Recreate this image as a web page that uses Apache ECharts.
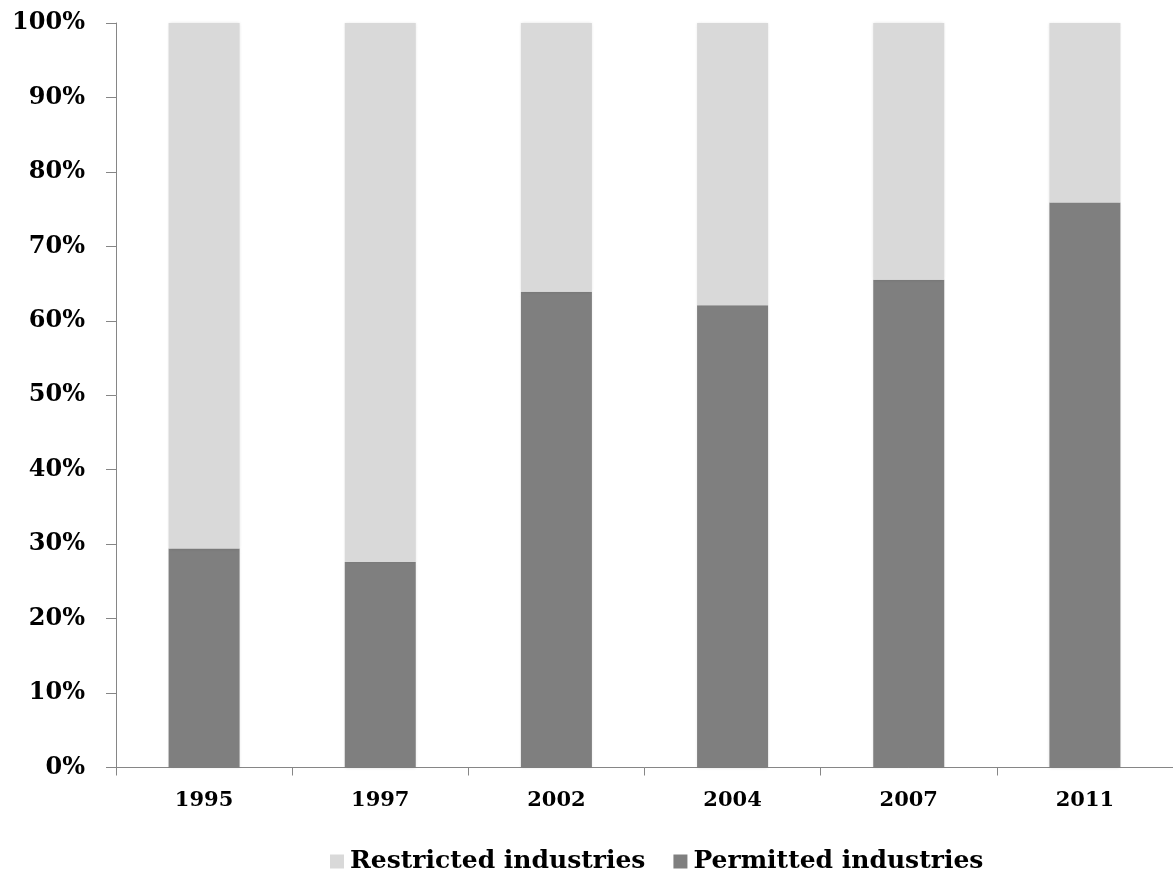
<!DOCTYPE html>
<html>
<head>
<meta charset="utf-8">
<script src="https://cdn.jsdelivr.net/npm/echarts@6/dist/echarts.min.js"></script>
<style>
  html, body { margin: 0; padding: 0; background: #ffffff; }
  #chart { width: 1173px; height: 875px; }
</style>
</head>
<body>
<div id="chart"></div>
<script>
// Share of industries by category, per catalogue year (percent)
const years = ['1995', '1997', '2002', '2004', '2007', '2011'];
const permitted = [29.4, 27.6, 63.9, 62.1, 65.5, 75.9];
const restricted = [70.6, 72.4, 36.1, 37.9, 34.5, 24.1];
const yTicks = [0, 10, 20, 30, 40, 50, 60, 70, 80, 90, 100];

const FONT = 'DejaVu Serif';
const axisGrey = '#868686';

const chart = echarts.init(document.getElementById('chart'), null, { renderer: 'canvas' });
chart.setOption({
  animation: false,
  backgroundColor: '#ffffff',
  grid: { left: 116, right: 0, top: 23, bottom: 107.5, containLabel: false },
  legend: {
    top: 844,
    left: 325,
    itemWidth: 14,
    itemHeight: 14,
    itemGap: 28,
    icon: 'rect',
    data: ['Restricted industries', 'Permitted industries'],
    textStyle: { fontFamily: FONT, fontWeight: 'bold', fontSize: 25, color: '#000000', padding: [0, 0, 0, 1] }
  },
  xAxis: {
    type: 'category',
    data: years,
    boundaryGap: true,
    axisLine: { lineStyle: { color: axisGrey, width: 1 } },
    axisTick: { show: true, alignWithLabel: false, length: 8, lineStyle: { color: axisGrey } },
    axisLabel: { fontFamily: FONT, fontWeight: 'bold', fontSize: 21, color: '#000000', margin: 23 },
    splitLine: { show: false }
  },
  yAxis: {
    type: 'value',
    min: yTicks[0],
    max: yTicks[yTicks.length - 1],
    interval: 10,
    axisLine: { show: true, lineStyle: { color: axisGrey, width: 1 } },
    axisTick: { show: true, length: 10, lineStyle: { color: axisGrey } },
    axisLabel: { fontFamily: FONT, fontWeight: 'bold', fontSize: 24, color: '#000000', margin: 31,
                 formatter: v => v + '%' },
    splitLine: { show: false }
  },
  series: [
    {
      name: 'Permitted industries',
      type: 'bar',
      stack: 'share',
      barWidth: 71,
      data: permitted,
      itemStyle: { color: '#7f7f7f', shadowColor: 'rgba(0,0,0,0.12)', shadowBlur: 3 }
    },
    {
      name: 'Restricted industries',
      type: 'bar',
      stack: 'share',
      barWidth: 71,
      data: restricted,
      itemStyle: { color: '#d9d9d9', shadowColor: 'rgba(0,0,0,0.12)', shadowBlur: 3 }
    }
  ]
});
</script>
</body>
</html>
